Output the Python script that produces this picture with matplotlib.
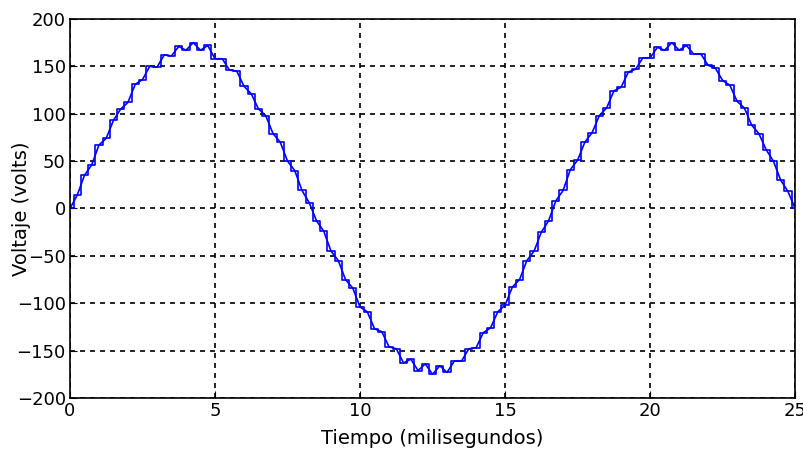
import numpy as np
import matplotlib.pyplot as plt

# sample times (ms), every 0.25 ms
t = [0.0, 0.25, 0.5, 0.75, 1.0, 1.25, 1.5, 1.75, 2.0, 2.25,
     2.5, 2.75, 3.0, 3.25, 3.5, 3.75, 4.0, 4.25, 4.5, 4.75,
     5.0, 5.25, 5.5, 5.75, 6.0, 6.25, 6.5, 6.75, 7.0, 7.25,
     7.5, 7.75, 8.0, 8.25, 8.5, 8.75, 9.0, 9.25, 9.5, 9.75,
     10.0, 10.25, 10.5, 10.75, 11.0, 11.25, 11.5, 11.75, 12.0, 12.25,
     12.5, 12.75, 13.0, 13.25, 13.5, 13.75, 14.0, 14.25, 14.5, 14.75,
     15.0, 15.25, 15.5, 15.75, 16.0, 16.25, 16.5, 16.75, 17.0, 17.25,
     17.5, 17.75, 18.0, 18.25, 18.5, 18.75, 19.0, 19.25, 19.5, 19.75,
     20.0, 20.25, 20.5, 20.75, 21.0, 21.25, 21.5, 21.75, 22.0, 22.25,
     22.5, 22.75, 23.0, 23.25, 23.5, 23.75, 24.0, 24.25, 24.5, 24.75,
     25.0]

# voltage (volts)
v = [0, 14, 35, 46, 67, 74, 93, 105, 112, 131,
     136, 150, 149, 162, 161, 171, 167, 175, 167, 172,
     158, 158, 146, 145, 129, 121, 105, 98, 79, 70,
     50, 40, 19, 6, -13, -24, -45, -55, -75, -84,
     -104, -109, -127, -130, -146, -148, -163, -159, -171, -164,
     -175, -166, -173, -161, -161, -148, -147, -131, -126, -109,
     -102, -83, -75, -55, -45, -25, -13, 8, 19, 41,
     51, 70, 80, 98, 106, 124, 128, 144, 147, 159,
     159, 170, 167, 175, 167, 172, 163, 163, 151, 148,
     135, 130, 113, 106, 88, 79, 62, 50, 30, 18,
     0]

xticks = [0, 5, 10, 15, 20, 25]
yticks = [-200, -150, -100, -50, 0, 50, 100, 150, 200]

fig = plt.figure(figsize=(8.04, 4.51), dpi=100)
ax = fig.add_axes([0.087, 0.1175, 0.902, 0.8405])

ax.plot(t, v, color='#0000ff', lw=1.2)
ax.plot(t, v, color='#0000ff', lw=1.2, drawstyle='steps-mid')

ax.set_xlim(0, 25)
ax.set_ylim(-200, 200)
ax.set_xticks(xticks)
ax.set_yticks(yticks)
ax.grid(True, color='black', linestyle=(0, (3, 3)), linewidth=1.2)
ax.tick_params(direction='in', length=5, labelsize=13, colors='black', pad=3)
for s in ax.spines.values():
    s.set_linewidth(1.2)

ax.set_xlabel('Tiempo (milisegundos)', fontsize=14)
ax.set_ylabel('Voltaje (volts)', fontsize=14)
ax.xaxis.set_label_coords(0.5, -0.082)
ax.yaxis.set_label_coords(-0.054, 0.5)

fig.savefig('out.png', dpi=100)
